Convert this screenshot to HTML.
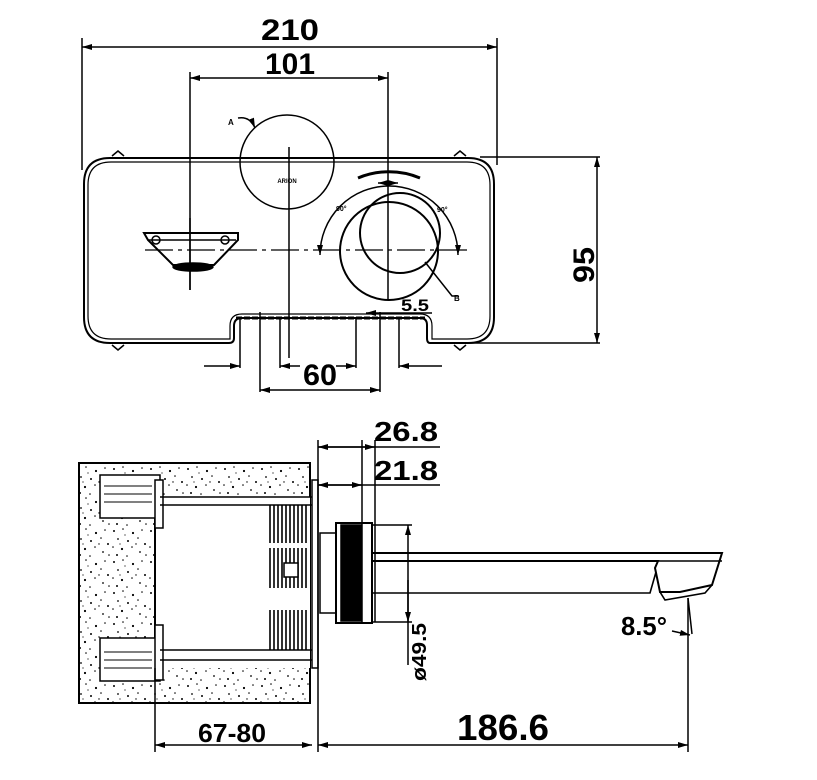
<!DOCTYPE html>
<html><head><meta charset="utf-8"><style>html,body{margin:0;padding:0;background:#fff}svg{display:block}</style></head>
<body>
<svg width="817" height="780" viewBox="0 0 817 780" xmlns="http://www.w3.org/2000/svg" font-family="Liberation Sans, sans-serif" font-weight="bold">
<defs>
<marker id="ar" viewBox="0 0 10 6" refX="10" refY="3" markerWidth="10" markerHeight="6" orient="auto-start-reverse" markerUnits="userSpaceOnUse"><path d="M0,0L10,3L0,6z" fill="#000"/></marker>
<pattern id="st" width="37" height="31" patternUnits="userSpaceOnUse">
<rect width="37" height="31" fill="#fff"/>
<g fill="#000">
<circle cx="3" cy="4" r="1"/><circle cx="12" cy="2" r="0.8"/><circle cx="22" cy="6" r="1.1"/><circle cx="31" cy="3" r="0.8"/>
<circle cx="7" cy="12" r="0.9"/><circle cx="17" cy="14" r="1"/><circle cx="27" cy="11" r="0.8"/><circle cx="34" cy="17" r="1"/>
<circle cx="2" cy="20" r="0.8"/><circle cx="11" cy="22" r="1.1"/><circle cx="21" cy="20" r="0.8"/><circle cx="29" cy="25" r="0.9"/>
<circle cx="6" cy="28" r="1"/><circle cx="16" cy="29" r="0.8"/><circle cx="25" cy="17" r="0.7"/><circle cx="35" cy="28" r="0.8"/>
<circle cx="14" cy="8" r="0.6"/><circle cx="9" cy="17" r="0.6"/>
</g></pattern>
</defs>
<g stroke="#000" fill="none" stroke-width="1.5">
<!-- top dims -->
<line x1="82" y1="38" x2="82" y2="170"/><line x1="497" y1="38" x2="497" y2="165"/>
<line x1="82" y1="47" x2="497" y2="47" marker-start="url(#ar)" marker-end="url(#ar)"/>
<line x1="190" y1="72" x2="190" y2="290"/><line x1="388" y1="72" x2="388" y2="300"/>
<line x1="190" y1="78" x2="388" y2="78" marker-start="url(#ar)" marker-end="url(#ar)"/>
<!-- plate -->
<path d="M110,158 H468 Q494,158 494,184 V317 Q494,343 468,343 H430 Q427,343 427,338 V325 Q427,318 420,318 H242 Q234,318 234,326 V338 Q234,343 229,343 H110 Q84,343 84,317 V184 Q84,158 110,158 Z" stroke-width="2"/>
<path d="M111,162 H467 Q490,162 490,185 V316 Q490,339 467,339 H432 V326 Q432,314 420,314 H242 Q230,314 230,326 V339 H111 Q88,339 88,316 V185 Q88,162 111,162 Z" stroke-width="1.2"/>
<path d="M112,156 L118,151 L124,156 M454,156 L460,151 L466,156 M112,345 L118,350 L124,345 M454,345 L460,350 L466,345" stroke-width="1.5"/>
<!-- 95 -->
<line x1="480" y1="157" x2="600" y2="157"/><line x1="430" y1="343" x2="600" y2="343"/>
<line x1="597" y1="157" x2="597" y2="343" marker-start="url(#ar)" marker-end="url(#ar)"/>
<!-- left circle -->
<circle cx="287" cy="162" r="47"/>
<line x1="289" y1="147" x2="289" y2="358"/>
<path d="M238,118 Q250,116 255,128" marker-end="url(#ar)"/>
<!-- center line -->
<line x1="145" y1="250" x2="470" y2="250" stroke-dasharray="28,5,4,5" stroke-width="1.3"/>
<!-- spout outlet -->
<path d="M144,233 H238 V240 L214,265 H173 L148,240 Z" stroke-width="2"/>
<line x1="148" y1="240" x2="236" y2="240"/>
<circle cx="156" cy="240" r="4"/><circle cx="225" cy="240" r="4"/>
<ellipse cx="193" cy="267" rx="20" ry="4" fill="#000"/>
<line x1="190" y1="218" x2="190" y2="290"/>
<!-- knob -->
<circle cx="389" cy="251" r="49" stroke-width="2"/>
<circle cx="400" cy="233" r="40" stroke-width="2"/>
<path d="M320,255 A69,69 0 0 1 458,255" marker-start="url(#ar)" marker-end="url(#ar)"/>
<path d="M358,178 A80,80 0 0 1 420,178" stroke-width="3"/>
<line x1="378" y1="183" x2="398" y2="183" marker-start="url(#ar)" marker-end="url(#ar)"/>
<path d="M425,262 L452,296 H458"/>
<!-- bottom dims -->
<line x1="260" y1="312" x2="260" y2="392"/><line x1="380" y1="312" x2="380" y2="392"/>
<line x1="260" y1="390" x2="380" y2="390" marker-start="url(#ar)" marker-end="url(#ar)"/>
<line x1="240" y1="318" x2="240" y2="368"/><line x1="280" y1="318" x2="280" y2="368"/>
<line x1="356" y1="318" x2="356" y2="368"/><line x1="399" y1="318" x2="399" y2="368"/>
<line x1="204" y1="366" x2="240" y2="366" marker-end="url(#ar)"/><line x1="280" y1="366" x2="300" y2="366" marker-start="url(#ar)"/>
<line x1="336" y1="366" x2="356" y2="366" marker-end="url(#ar)"/><line x1="399" y1="366" x2="442" y2="366" marker-start="url(#ar)"/>
<line x1="366" y1="313" x2="388" y2="313" marker-start="url(#ar)"/><line x1="388" y1="313" x2="432" y2="313"/>
<path d="M236,318 H425" stroke-width="3" stroke-dasharray="6,2"/>

<!-- SIDE VIEW -->
<rect x="79" y="463" width="231" height="240" fill="url(#st)" stroke-width="2"/>
<rect x="155" y="497" width="155" height="171" fill="#fff" stroke="none"/>
<line x1="155" y1="497" x2="155" y2="668" stroke-width="2"/>
<rect x="100" y="475" width="60" height="43" fill="#fff"/>
<rect x="100" y="638" width="60" height="43" fill="#fff"/>
<rect x="155" y="480" width="8" height="48" fill="#fff"/>
<rect x="155" y="625" width="8" height="55" fill="#fff"/>
<line x1="160" y1="497" x2="318" y2="497"/><line x1="160" y1="505" x2="318" y2="505"/>
<line x1="160" y1="650" x2="318" y2="650"/><line x1="160" y1="660" x2="318" y2="660"/>
<g stroke-width="1">
<path d="M104,486 h48 M104,494 h48 M104,502 h48 M104,652 h48 M104,660 h48 M104,668 h48"/>
</g>
<g stroke-width="1.6">
<path d="M270,505 v38 M274,505 v38 M278,505 v38 M282,505 v38 M286,505 v38 M290,505 v38 M294,505 v38 M298,505 v38 M302,505 v38 M306,505 v38"/>
<path d="M270,548 v40 M274,548 v40 M278,548 v40 M282,548 v40 M286,548 v40 M290,548 v40 M294,548 v40 M298,548 v40 M302,548 v40 M306,548 v40"/>
<path d="M270,610 v40 M274,610 v40 M278,610 v40 M282,610 v40 M286,610 v40 M290,610 v40 M294,610 v40 M298,610 v40 M302,610 v40 M306,610 v40"/>
</g>
<rect x="284" y="563" width="14" height="14" fill="#fff"/>
<rect x="312" y="480" width="6" height="188" fill="#fff"/>
<line x1="318" y1="440" x2="318" y2="752"/>
<rect x="320" y="533" width="16" height="80" fill="#fff"/>
<rect x="336" y="523" width="36" height="100" fill="#fff" stroke-width="2"/>
<rect x="341" y="525" width="20" height="96" fill="#000"/>
<line x1="362" y1="440" x2="362" y2="622"/><line x1="375" y1="440" x2="375" y2="622"/>
<line x1="318" y1="447" x2="440" y2="447"/><line x1="318" y1="447" x2="375" y2="447" marker-start="url(#ar)" marker-end="url(#ar)"/>
<line x1="318" y1="485" x2="440" y2="485"/><line x1="318" y1="485" x2="362" y2="485" marker-start="url(#ar)" marker-end="url(#ar)"/>
<!-- spout -->
<path d="M372,553 H722 L712,585 L680,592 H660 L655,568 L658,561 L372,561" stroke-width="2"/>
<path d="M372,561 H722 M372,593 H650 L656,572 M376,553 L372,553 M660,592 L665,600 L705,593 L712,585" stroke-width="1.6"/>
<line x1="372" y1="525" x2="412" y2="525"/><line x1="372" y1="622" x2="412" y2="622"/>
<line x1="408" y1="525" x2="408" y2="665" marker-start="url(#ar)"/>
<line x1="408" y1="580" x2="408" y2="622" marker-end="url(#ar)"/>
<line x1="688" y1="598" x2="688" y2="752"/><line x1="688" y1="598" x2="692" y2="634"/>
<line x1="672" y1="631" x2="690" y2="635" marker-end="url(#ar)"/>
<!-- bottom dims -->
<line x1="155" y1="668" x2="155" y2="752"/>
<line x1="155" y1="745" x2="312" y2="745" marker-start="url(#ar)" marker-end="url(#ar)"/>
<line x1="318" y1="745" x2="688" y2="745" marker-start="url(#ar)" marker-end="url(#ar)"/>
</g>
<g fill="#000" stroke="none">
<text x="290" y="40" font-size="30" text-anchor="middle" textLength="58" lengthAdjust="spacingAndGlyphs">210</text>
<text x="290" y="74" font-size="30" text-anchor="middle" textLength="50" lengthAdjust="spacingAndGlyphs">101</text>
<text x="320" y="385" font-size="30" text-anchor="middle" textLength="34" lengthAdjust="spacingAndGlyphs">60</text>
<text x="415" y="311" font-size="17" text-anchor="middle" textLength="28" lengthAdjust="spacingAndGlyphs">5.5</text>
<text transform="translate(594,265) rotate(-90)" font-size="30" text-anchor="middle" textLength="36" lengthAdjust="spacingAndGlyphs">95</text>
<text x="287" y="183" font-size="6" text-anchor="middle">ARION</text>
<text x="336" y="211" font-size="7">90°</text><text x="437" y="212" font-size="7">90°</text>
<text x="228" y="125" font-size="8">A</text><text x="454" y="301" font-size="8">B</text>
<text x="406" y="441" font-size="28" text-anchor="middle" textLength="64" lengthAdjust="spacingAndGlyphs">26.8</text>
<text x="406" y="480" font-size="28" text-anchor="middle" textLength="64" lengthAdjust="spacingAndGlyphs">21.8</text>
<text x="232" y="742" font-size="26" text-anchor="middle" textLength="68" lengthAdjust="spacingAndGlyphs">67-80</text>
<text x="503" y="740" font-size="36" text-anchor="middle" textLength="92" lengthAdjust="spacingAndGlyphs">186.6</text>
<text x="644" y="635" font-size="26" text-anchor="middle" textLength="46" lengthAdjust="spacingAndGlyphs">8.5°</text>
<text transform="translate(426,652) rotate(-90)" font-size="20" text-anchor="middle" textLength="58" lengthAdjust="spacingAndGlyphs">ø49.5</text>
</g>
</svg>
</body></html>
